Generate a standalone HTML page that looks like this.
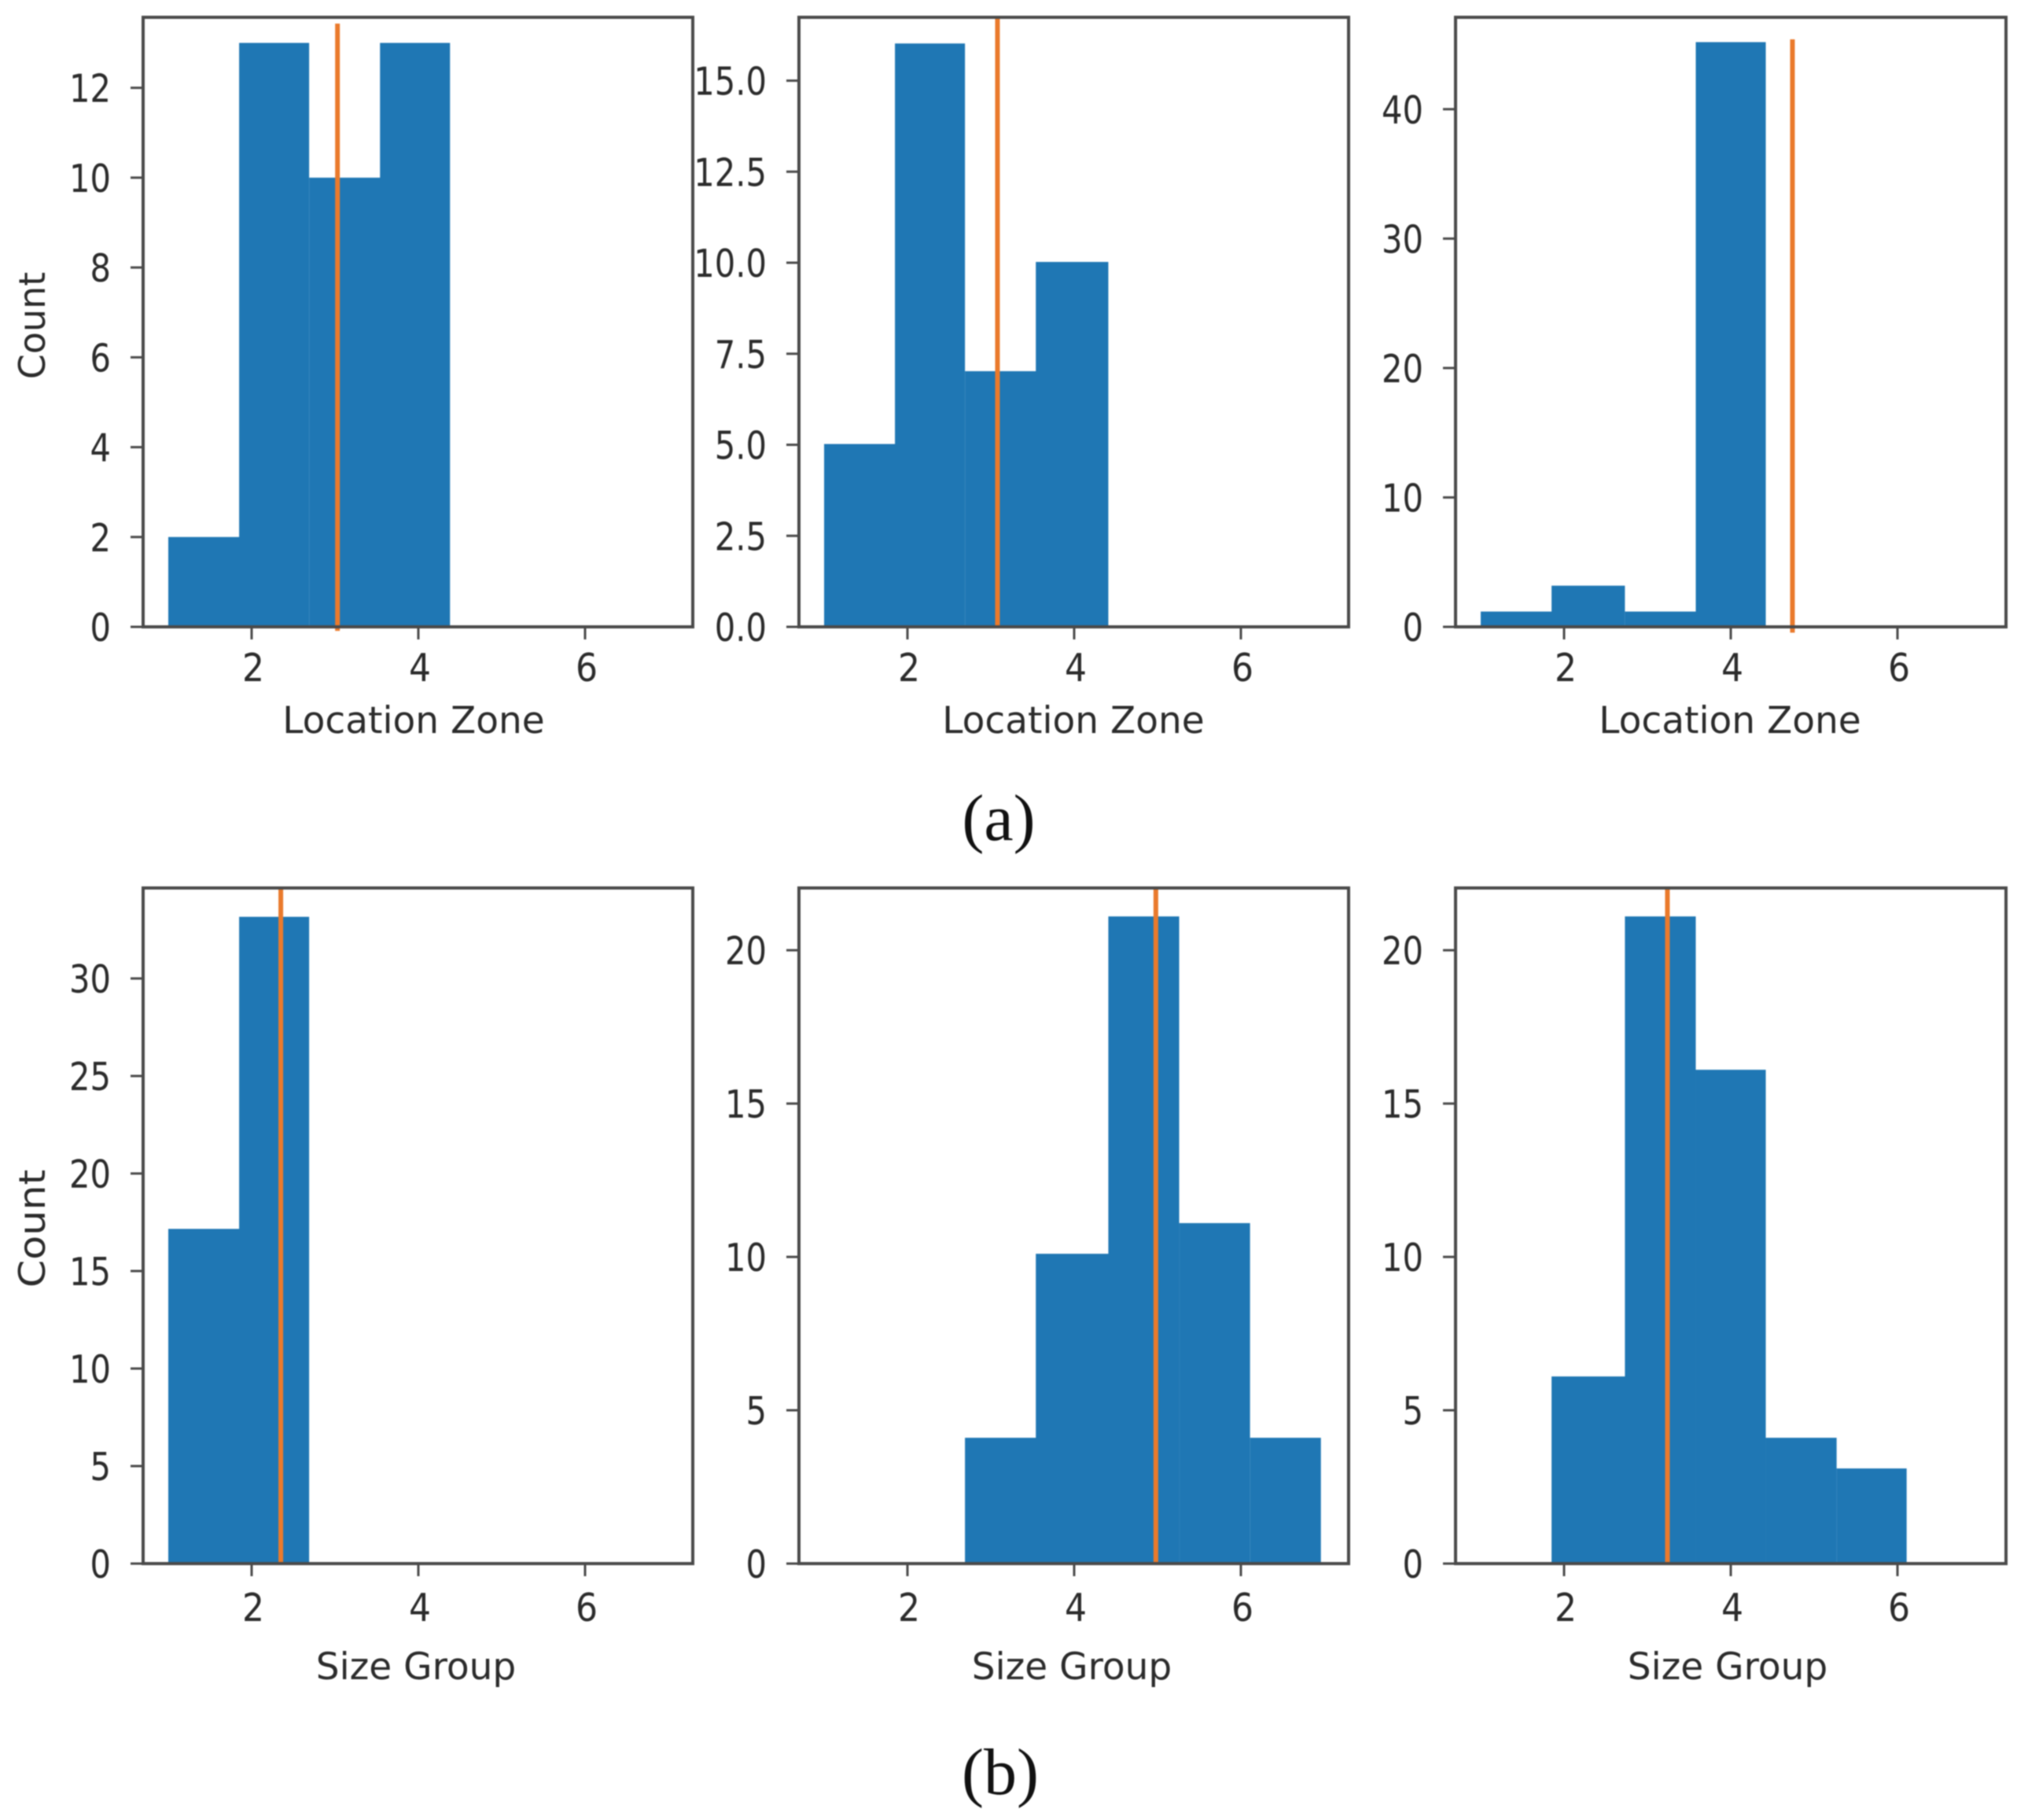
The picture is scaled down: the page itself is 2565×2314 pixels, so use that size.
<!DOCTYPE html>
<html lang="en">
<head>
<meta charset="utf-8">
<title>Histograms of location zone and size group</title>
<style>
  html, body { margin: 0; padding: 0; background: #fff; }
  body { width: 2565px; height: 2314px; overflow: hidden; }
  svg { display: block; filter: blur(0.9px); }
  text { font-family: "DejaVu Sans", "Liberation Sans", sans-serif; fill: #2b2b2b; }
  .caption { font-family: "Liberation Serif", serif; fill: #111; font-size: 84px; }
</style>
</head>
<body>
<svg id="figure" xmlns="http://www.w3.org/2000/svg" width="2565" height="2314" viewBox="0 0 2565 2314">
  <rect x="0" y="0" width="2565" height="2314" fill="#ffffff"/>
  <text class="caption" x="1270" y="1068" text-anchor="middle">(a)</text>
  <text class="caption" x="1272" y="2281" text-anchor="middle">(b)</text>
</svg>
<script>
// ---- Chart data ----
const zoneEdgesA = [1, 1.85, 2.69, 3.54, 4.38, 5.26, 6.11, 6.96];
const zoneEdgesB = [1, 1.85, 2.69, 3.54, 4.41, 5.26, 6.11, 6.96];
const zoneEdgesC = [1, 1.85, 2.73, 3.58, 4.42, 5.26, 6.11, 6.96];
const sizeEdgesA = [1, 1.85, 2.69, 3.54, 4.41, 5.26, 6.11, 6.96];
const sizeEdgesB = [1, 1.85, 2.69, 3.54, 4.41, 5.26, 6.11, 6.96];
const sizeEdgesC = [1, 1.85, 2.73, 3.58, 4.42, 5.27, 6.11, 6.96];
const xTicks = [2, 4, 6];

const zoneCountsA = [2, 13, 10, 13, 0, 0, 0];
const zoneCountsB = [5, 16, 7, 10, 0, 0, 0];
const zoneCountsC = [1, 3, 1, 45, 0, 0, 0];
const sizeCountsA = [17, 33, 0, 0, 0, 0, 0];
const sizeCountsB = [0, 0, 4, 10, 21, 11, 4];
const sizeCountsC = [0, 6, 21, 16, 4, 3, 0];

const zoneMeanA = 3.03;
const zoneMeanB = 3.08;
const zoneMeanC = 4.74;
const sizeMeanA = 2.35;
const sizeMeanB = 4.98;
const sizeMeanC = 3.24;

const zoneTicksA = [0, 2, 4, 6, 8, 10, 12];
const zoneTicksB = [0, 2.5, 5, 7.5, 10, 12.5, 15];
const zoneTicksC = [0, 10, 20, 30, 40];
const sizeTicksA = [0, 5, 10, 15, 20, 25, 30];
const sizeTicksB = [0, 5, 10, 15, 20];
const sizeTicksC = [0, 5, 10, 15, 20];

const zoneYMaxA = 13.57;
const zoneYMaxB = 16.74;
const zoneYMaxC = 47.1;
const sizeYMaxA = 34.64;
const sizeYMaxB = 22.03;
const sizeYMaxC = 22.03;

const zoneLineRangeA = [-0.09, 13.43];
const zoneLineRangeB = [0, 16.74];
const zoneLineRangeC = [-0.45, 45.4];
const sizeLineRangeA = [0, 34.64];
const sizeLineRangeB = [0, 22.03];
const sizeLineRangeC = [0, 22.03];

const zoneAxisTitle = "Location Zone";
const sizeAxisTitle = "Size Group";
const countAxisTitle = "Count";

// ---- Drawing ----
const NS = "http://www.w3.org/2000/svg";
const svg = document.getElementById("figure");
const UNIT_X = 106;
const BAR_COLOR = "#1f77b4";
const AXIS_COLOR = "#4a4a4a";

const panels = [
  { id: "zone-a", edges: zoneEdgesA, counts: zoneCountsA, mean: zoneMeanA, ticks: zoneTicksA, yMax: zoneYMaxA, range: zoneLineRangeA, dec: 0, left: 182, right: 881, originX: 214, top: 22, bottom: 797, lift: 0, xTitle: zoneAxisTitle, yTitle: countAxisTitle, xTitleX: 526, yTitleY: 414, yTitleStretch: 1 },
  { id: "zone-b", edges: zoneEdgesB, counts: zoneCountsB, mean: zoneMeanB, ticks: zoneTicksB, yMax: zoneYMaxB, range: zoneLineRangeB, dec: 1, left: 1016, right: 1715, originX: 1048, top: 22, bottom: 797, lift: 1, xTitle: zoneAxisTitle, yTitle: null, xTitleX: 1365, yTitleY: 0, yTitleStretch: 1 },
  { id: "zone-c", edges: zoneEdgesC, counts: zoneCountsC, mean: zoneMeanC, ticks: zoneTicksC, yMax: zoneYMaxC, range: zoneLineRangeC, dec: 0, left: 1851, right: 2551, originX: 1883, top: 22, bottom: 797, lift: 3, xTitle: zoneAxisTitle, yTitle: null, xTitleX: 2200, yTitleY: 0, yTitleStretch: 1 },
  { id: "size-a", edges: sizeEdgesA, counts: sizeCountsA, mean: sizeMeanA, ticks: sizeTicksA, yMax: sizeYMaxA, range: sizeLineRangeA, dec: 0, left: 182, right: 881, originX: 214, top: 1129, bottom: 1988, lift: 4, xTitle: sizeAxisTitle, yTitle: countAxisTitle, xTitleX: 529, yTitleY: 1562, yTitleStretch: 1.1 },
  { id: "size-b", edges: sizeEdgesB, counts: sizeCountsB, mean: sizeMeanB, ticks: sizeTicksB, yMax: sizeYMaxB, range: sizeLineRangeB, dec: 0, left: 1016, right: 1715, originX: 1048, top: 1129, bottom: 1988, lift: 4, xTitle: sizeAxisTitle, yTitle: null, xTitleX: 1363, yTitleY: 0, yTitleStretch: 1 },
  { id: "size-c", edges: sizeEdgesC, counts: sizeCountsC, mean: sizeMeanC, ticks: sizeTicksC, yMax: sizeYMaxC, range: sizeLineRangeC, dec: 0, left: 1851, right: 2551, originX: 1883, top: 1129, bottom: 1988, lift: 4, xTitle: sizeAxisTitle, yTitle: null, xTitleX: 2197, yTitleY: 0, yTitleStretch: 1 }
];

function make(tag, props, text) {
  const el = document.createElementNS(NS, tag);
  for (const key in props) el.setAttribute(key, props[key]);
  if (text !== undefined) el.textContent = text;
  return el;
}

panels.forEach(function (p) {
  const isTopRow = p.top === 22;
  const group = make("g", {});
  
  
  svg.appendChild(group);

  const xScale = function (v) {
    return p.originX + (v - 1) * UNIT_X;
  };
  const yScale = function (v) {
    return p.bottom - (v / p.yMax) * (p.bottom - p.top);
  };

  // bars (extended slightly to the right so adjacent bins have no seam)
  p.counts.forEach(function (count, i) {
    if (count <= 0) return;
    const x0 = xScale(p.edges[i]);
    const x1 = xScale(p.edges[i + 1]);
    const nextHigher = i + 1 < p.counts.length && p.counts[i + 1] >= count;
    const top = yScale(count) - p.lift;
    const bar = make("rect", { x: x0, y: top, width: x1 - x0 + (nextHigher ? 1.5 : 0), height: yScale(0) - top, fill: BAR_COLOR });
    
    
    group.appendChild(bar);
  });

  // mean line
  const meanX = xScale(p.mean);
  const meanLine = make("line", { x1: meanX, x2: meanX, y1: yScale(p.range[0]), y2: yScale(p.range[1]), stroke: "#ea7a2c", "stroke-width": 6 });
  
  
  group.appendChild(meanLine);

  // frame
  const frame = make("rect", { x: p.left, y: p.top, width: p.right - p.left, height: p.bottom - p.top, fill: "none", stroke: AXIS_COLOR, "stroke-width": 4 });
  
  
  group.appendChild(frame);

  // x ticks
  xTicks.forEach(function (tick) {
    const x = xScale(tick);
    const mark = make("line", { x1: x, x2: x, y1: p.bottom, y2: p.bottom + 16, stroke: AXIS_COLOR, "stroke-width": 3 });
    
    
    group.appendChild(mark);
    const labelY = p.bottom + (isTopRow ? 69 : 73);
    const label = make("text", { x: 0, y: 0, "text-anchor": "middle", "font-size": 49, transform: "translate(" + (x + 2) + " " + labelY + ") scale(0.9 1)" }, String(tick));
    
    
    group.appendChild(label);
  });

  // y ticks
  p.ticks.forEach(function (tick) {
    const y = yScale(tick);
    const mark = make("line", { x1: p.left - 16, x2: p.left, y1: y, y2: y, stroke: AXIS_COLOR, "stroke-width": 3 });
    
    
    group.appendChild(mark);
    const label = make("text", { x: 0, y: 0, "text-anchor": "end", "font-size": 49, transform: "translate(" + (p.left - 41) + " " + (y + 18) + ") scale(0.85 1)" }, tick.toFixed(p.dec));
    
    
    group.appendChild(label);
  });

  // x axis title
  const xTitle = make("text", { x: p.xTitleX, y: isTopRow ? 932 : 2135, "text-anchor": "middle", "font-size": 47 }, p.xTitle);
  
  
  group.appendChild(xTitle);

  // y axis title
  if (p.yTitle) {
    const yTitle = make("text", { x: 0, y: 0, "text-anchor": "middle", "font-size": 46, transform: "translate(57 " + p.yTitleY + ") rotate(-90) scale(" + p.yTitleStretch + " 1)" }, p.yTitle);
    
    
    group.appendChild(yTitle);
  }
});
</script>
</body>
</html>
